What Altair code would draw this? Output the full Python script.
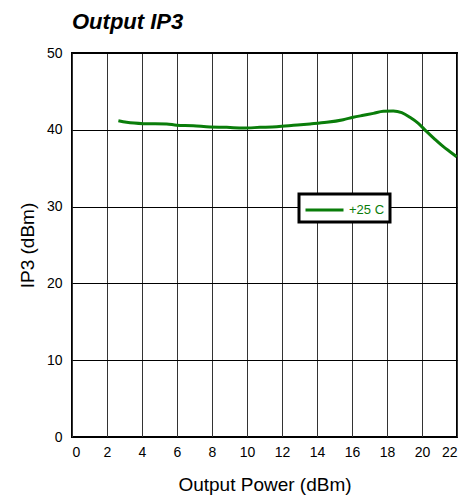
import altair as alt
import pandas as pd

# Data
power_dbm = [2.65, 3.12, 4.08, 5.41, 5.98, 6.93, 7.89, 8.84, 9.79, 10.74, 11.70, 12.65,
             13.60, 14.55, 15.50, 16.07, 16.65, 17.22, 17.79, 18.36, 18.84, 19.31,
             19.79, 20.27, 20.74, 21.22, 21.60, 21.98]
ip3_dbm = [41.18, 40.97, 40.80, 40.76, 40.60, 40.54, 40.36, 40.32, 40.23, 40.32, 40.41, 40.58,
           40.76, 40.97, 41.32, 41.63, 41.89, 42.14, 42.41, 42.45, 42.23, 41.63,
           40.84, 39.76, 38.76, 37.80, 37.15, 36.50]
series_name = "+25 C"
x_ticks = [0, 2, 4, 6, 8, 10, 12, 14, 16, 18, 20, 22]
y_ticks = [0, 10, 20, 30, 40, 50]

df = pd.DataFrame({"power": power_dbm, "ip3": ip3_dbm, "series": series_name})

FONT = "Liberation Sans"
GREEN = "#0a7d0a"

chart = (
    alt.Chart(df)
    .mark_line(strokeWidth=3, interpolate="monotone")
    .encode(
        x=alt.X(
            "power:Q",
            scale=alt.Scale(domain=[0, 22], nice=False, zero=False),
            axis=alt.Axis(
                values=x_ticks,
                title="Output Power (dBm)",
                grid=True,
                gridColor="#333333",
                gridWidth=1,
                gridOpacity=1,
                ticks=False,
                tickSize=0,
                domain=False,
                labelFont=FONT,
                labelFontSize=14,
                labelColor="black",
                labelPadding=8,
                titleFont=FONT,
                titleFontSize=19,
                titleFontWeight="normal",
                titleColor="black",
                titlePadding=16,
            ),
        ),
        y=alt.Y(
            "ip3:Q",
            scale=alt.Scale(domain=[0, 50], nice=False, zero=False),
            axis=alt.Axis(
                values=y_ticks,
                title="IP3 (dBm)",
                grid=True,
                gridColor="black",
                gridWidth=1,
                gridOpacity=1,
                ticks=False,
                tickSize=0,
                domain=False,
                labelFont=FONT,
                labelFontSize=14,
                labelColor="black",
                labelPadding=10,
                titleFont=FONT,
                titleFontSize=19,
                titleFontWeight="normal",
                titleColor="black",
                titlePadding=9,
            ),
        ),
        color=alt.Color(
            "series:N",
            scale=alt.Scale(domain=[series_name], range=[GREEN]),
            legend=alt.Legend(
                orient="none",
                legendX=227,
                legendY=141,
                title=None,
                symbolType="M-1,0H3",
                symbolSize=361,
                symbolStrokeWidth=3,
                symbolStrokeColor=GREEN,
                symbolFillColor="transparent",
                labelColor=GREEN,
                labelFont=FONT,
                labelFontSize=13,
                labelOffset=23,
                fillColor="white",
                strokeColor="black",
                padding=5,
            ),
        ),
    )
    .properties(
        width=385,
        height=384,
        background="white",
        autosize=alt.AutoSizeParams(type="none"),
        padding={"left": 64, "top": 45, "right": 6, "bottom": 62},
        title=alt.TitleParams(
            "Output IP3",
            anchor="start",
            frame="group",
            font=FONT,
            fontSize=22,
            fontStyle="italic",
            fontWeight="bold",
            color="black",
            offset=12,
        ),
    )
    .configure_view(stroke="black", strokeWidth=2)
    .configure_legend(strokeWidth=3)
)

chart.save("out.html", embed_options={"renderer": "svg", "actions": False})
